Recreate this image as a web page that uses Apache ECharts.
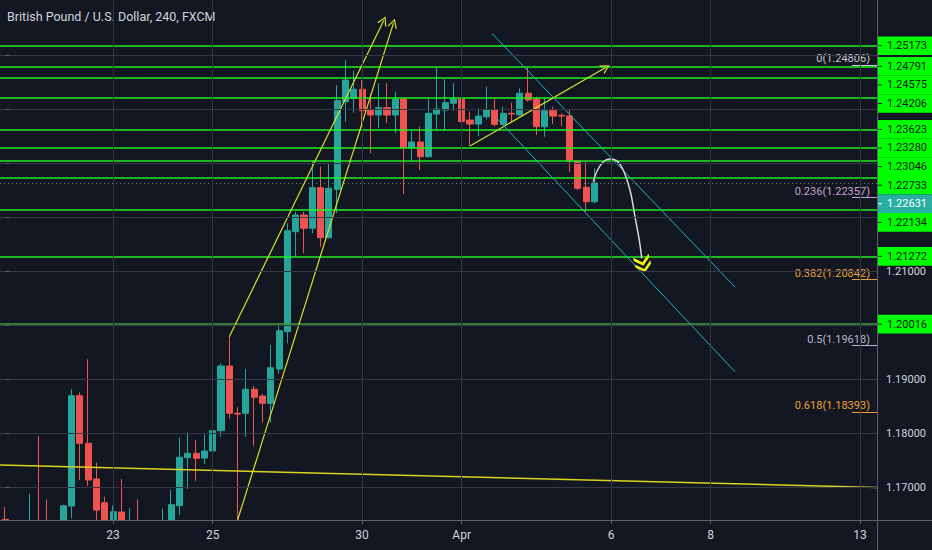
<!DOCTYPE html>
<html>
<head>
<meta charset="utf-8">
<script src="https://cdn.jsdelivr.net/npm/echarts@6/dist/echarts.min.js"></script>
<style>
html,body{margin:0;padding:0;background:#131722;}
#c{width:932px;height:550px;}
</style>
</head>
<body>
<div id="c"></div>
<script>
// ---- candle data (4h bars, index = bar number) ----
const openP = [1.1640,1.1625,1.1615,1.1628,1.1636,1.1620,1.1612,1.1620,1.16648,1.18691,
1.17809,1.17148,1.16709,1.1632,1.16537,1.1630,1.1636,1.1628,1.1620,1.1626,
1.1634,1.16654,1.17543,1.17624,1.17537,1.17667,1.18043,1.19241,1.18365,1.18365,
1.18809,1.18685,1.18550,1.19185,1.19876,1.21728,1.22037,1.21791,1.22543,1.21617,
1.22513,1.24135,1.24198,1.24365,1.23981,1.23889,1.24024,1.23889,1.24185,1.23283,
1.23389,1.23117,1.23907,1.23981,1.24106,1.24185,1.23796,1.23722,1.23857,1.23981,
1.23716,1.23920,1.23889,1.24291,1.24185,1.23672,1.23969,1.23883,1.23870,1.23037,
1.22550,1.22283];
const closeP = [1.1625,1.1615,1.1628,1.1636,1.1620,1.1612,1.1620,1.16654,1.18691,1.17809,
1.17130,1.16574,1.1632,1.16543,1.1630,1.1636,1.1628,1.1620,1.1626,1.1634,
1.16672,1.17550,1.17624,1.17531,1.17667,1.18043,1.19241,1.18365,1.18350,1.18809,
1.18661,1.18550,1.19209,1.19894,1.21746,1.22037,1.21791,1.22543,1.21617,1.22531,
1.24154,1.24537,1.24365,1.23969,1.23889,1.24024,1.23889,1.24185,1.23283,1.23389,
1.23117,1.23920,1.24000,1.24117,1.24185,1.23765,1.23722,1.23870,1.23981,1.23716,
1.23920,1.23907,1.24291,1.24167,1.23672,1.23969,1.23870,1.23870,1.23037,1.22531,
1.22283,1.22631];
const lowP = [1.1610,1.1600,1.1605,1.1615,1.1610,1.1600,1.1598,1.1615,1.16420,1.17130,
1.17019,1.1630,1.1620,1.1620,1.1618,1.1620,1.1615,1.1605,1.1600,1.1612,
1.1625,1.16481,1.16963,1.17111,1.17426,1.17650,1.17932,1.18272,1.1620,1.17932,
1.17765,1.18194,1.18194,1.1910,1.19661,1.21265,1.21328,1.21698,1.21450,1.2160,
1.22069,1.23765,1.23931,1.23672,1.23180,1.23643,1.23735,1.23550,1.22426,1.23024,
1.22870,1.23100,1.23624,1.23611,1.23969,1.23672,1.23315,1.23500,1.23809,1.23672,
1.23704,1.23765,1.23880,1.24135,1.23519,1.23487,1.23722,1.23685,1.22839,1.22500,
1.22098,1.22253];
const highP = [1.1663,1.1632,1.1635,1.1687,1.1794,1.1677,1.1634,1.16672,1.18809,1.18753,
1.19365,1.17450,1.16820,1.16654,1.17148,1.16606,1.16772,1.1636,1.1635,1.16600,
1.16944,1.17913,1.18013,1.17870,1.17976,1.18180,1.19291,1.19783,1.18476,1.19185,
1.18870,1.18722,1.19630,1.20031,1.21883,1.22098,1.22098,1.23056,1.22931,1.22994,
1.24444,1.24907,1.24704,1.24537,1.24291,1.24476,1.24476,1.24320,1.24190,1.23593,
1.23672,1.24185,1.24765,1.24550,1.24476,1.24190,1.23950,1.24013,1.24413,1.24198,
1.24043,1.24117,1.24383,1.24772,1.24228,1.24213,1.24043,1.23920,1.23981,1.23050,
1.23024,1.22902];

// ---- time axis: bar index of each labelled day ----
const dayTickBars = [13, 25, 43, 55, 73, 85, 103];
const dayTickLabels = ['23', '25', '30', 'Apr', '6', '8', '13'];

// ---- price axis ----
const priceGridTicks = [1.17, 1.18, 1.19, 1.20, 1.21, 1.22, 1.23, 1.24, 1.25];
const priceLabelTicks = [1.17, 1.18, 1.19, 1.21];

// ---- horizontal levels ----
const levelPrices = [1.25173, 1.24791, 1.24575, 1.24206, 1.23623, 1.23280, 1.23046, 1.22733, 1.22134, 1.21272, 1.20016];
const lastPrice = 1.22631;

// ---- fibonacci retracement ----
const fibRatios = ['0', '0.236', '0.382', '0.5', '0.618'];
const fibPrices = [1.24806, 1.22357, 1.20842, 1.19618, 1.18393];

// ---- drawings (bar index, price) ----
const flatLine = [[-0.627, 1.17407], [105.04, 1.16991]];
const channelLeft = [[27.0, 1.19783], [45.61, 1.25639]];
const channelRight = [[28.0, 1.16389], [46.78, 1.25591]];
const upArrow = [[56.0, 1.23315], [72.35, 1.24769]];
const tealUpper = [[58.65, 1.25400], [87.93, 1.20704]];
const tealLower = [[59.22, 1.23828], [87.93, 1.19135]];
const curveX = [70.86, 71.27, 72.06, 72.87, 73.67, 74.47, 75.28, 75.88, 76.40, 76.69];
const curveY = [1.22654, 1.22839, 1.23024, 1.23074, 1.23043, 1.22870, 1.22500, 1.22006, 1.21574, 1.21235];
const targetMark = [76.84, 1.21130];

// ---- build ----
const FONT = 'Roboto, "Liberation Sans", sans-serif';
const TXT = '#d1d4dc';
const GRID = '#343844';
const X_MIN = -0.627, X_MAX = 105.04;
const Y_MIN = 1.16389, Y_MAX = 1.26019;

const candles = openP.map((o, i) => [i, o, closeP[i], lowP[i], highP[i]]);
const CHEVRON = 'path://M5,0 L10,10 L8.6,10 L5,2.6 L1.4,10 L0,10 Z';
const DOUBLE_CHEV = 'path://M0,0 L8,7 L16,0 L16,3.5 L8,10.5 L0,3.5 Z M0,7 L8,14 L16,7 L16,10.5 L8,17.5 L0,10.5 Z';

function seg(pts, color, width, arrow) {
  return [
    { coord: pts[0], symbol: 'none' },
    { coord: pts[1], symbol: arrow ? CHEVRON : 'none', symbolSize: arrow ? [10, 9] : 0,
      lineStyle: { color: color, width: width, type: 'solid' } }
  ];
}

const fibColors = ['#c8cbd4', '#c6a0cc', '#e6a23c', '#b9b6cc', '#eea033'];

const chart = echarts.init(document.getElementById('c'), null, { renderer: 'svg' });

const option = {
  backgroundColor: '#131722',
  animation: false,
  title: {
    text: 'British Pound / U.S. Dollar, 240, FXCM',
    left: 7, top: 10, padding: 0,
    textStyle: { color: TXT, fontSize: 12.5, fontWeight: 'normal', fontFamily: FONT }
  },
  grid: { left: 0, right: 55, top: 0, bottom: 30, containLabel: false },
  xAxis: {
    type: 'value', min: X_MIN, max: X_MAX, z: 30,
    axisLine: { show: false },
    axisTick: { show: true, customValues: dayTickBars, length: 4, lineStyle: { color: '#5d606b' } },
    axisLabel: {
      customValues: dayTickBars, color: TXT, fontSize: 12, fontFamily: FONT, margin: 9,
      formatter: v => dayTickLabels[dayTickBars.indexOf(Math.round(v))]
    },
    splitLine: { show: true, lineStyle: { color: GRID, width: 1 } }
  },
  yAxis: {
    type: 'value', position: 'right', min: Y_MIN, max: Y_MAX, z: 30,
    axisLine: { show: false },
    axisTick: { show: true, customValues: priceGridTicks, length: 4, lineStyle: { color: '#5d606b' } },
    axisLabel: {
      customValues: priceLabelTicks, color: TXT, fontSize: 11, fontFamily: FONT, margin: 9,
      formatter: v => v.toFixed(5)
    },
    splitLine: { show: true, lineStyle: { color: GRID, width: 1 } }
  },
  series: [
    {
      type: 'candlestick', name: 'GBPUSD',
      data: candles,
      encode: { x: 0, y: [1, 2, 3, 4] },
      barWidth: 6.6, clip: true,
      itemStyle: { color: '#26a69a', color0: '#ef5350', borderColor: '#26a69a', borderColor0: '#ef5350', borderWidth: 1 },
      z: 3
    },
    {
      type: 'line', name: 'levels', data: [], z: 4, silent: true,
      markLine: {
        silent: true, symbol: ['none', 'none'], animation: false, precision: 5,
        label: { show: false },
        data: levelPrices.map(p => ({
          yAxis: p,
          lineStyle: { color: p === 1.20016 ? '#3c9a3c' : '#22ee22', width: 1.5, type: 'solid' }
        })).concat([{ yAxis: lastPrice, lineStyle: { color: '#6f8796', width: 1, type: [1, 3] } }])
      }
    },
    {
      type: 'line', name: 'fib', data: [], z: 4, silent: true,
      markLine: {
        silent: true, symbol: ['none', 'none'], animation: false, precision: 5,
        data: fibPrices.map((p, i) => [
          { coord: [102.02, p], symbol: 'none' },
          { coord: [X_MAX, p], symbol: 'none',
            lineStyle: { color: fibColors[i], width: 1, type: 'solid' },
            label: { show: true, position: 'insideEndTop', distance: [7, 1],
              formatter: fibRatios[i] + '(' + p.toFixed(5) + ')',
              color: fibColors[i], fontSize: 11, fontFamily: FONT } }
        ])
      }
    },
    {
      type: 'line', name: 'drawings', data: [], z: 5, silent: true,
      markLine: {
        silent: true, symbol: ['none', 'none'], animation: false, precision: 5,
        label: { show: false },
        data: [
          seg(flatLine, '#d8d420', 1.5, false),
          seg(channelLeft, '#d8e030', 1.2, true),
          seg(channelRight, '#d8e030', 1.2, true),
          seg(upArrow, '#d8e030', 1.2, true),
          seg(tealUpper, '#1fb4c4', 1, false),
          seg(tealLower, '#1fb4c4', 1, false)
        ]
      }
    },
    {
      type: 'line', name: 'path', z: 6, silent: true,
      data: curveX.map((x, i) => [x, curveY[i]]),
      smooth: 0.4, showSymbol: false, symbol: 'none',
      lineStyle: { color: '#d6d6d6', width: 1.5 },
      markPoint: {
        silent: true, animation: false,
        data: [{ coord: targetMark, symbol: DOUBLE_CHEV, symbolSize: [16, 17], symbolRotate: 15,
          itemStyle: { color: '#f3f30c' }, label: { show: false } }]
      }
    }
  ]
};
chart.setOption(option);

// price-scale label boxes, stacked so they do not overlap; mask below the pane
const boxes = levelPrices.map(p => ({ p: p, bg: '#00ff00', fg: '#0c1a0c' }))
  .concat([{ p: lastPrice, bg: '#2ab0a2', fg: '#ffffff' }])
  .sort((a, b) => b.p - a.p);
const H = 18.6;
let prev = -1e9;
const gfx = [
  { type: 'rect', shape: { x: 0, y: 520, width: 932, height: 30 }, style: { fill: '#131722' }, z: 19 },
  { type: 'line', shape: { x1: 0, y1: 520.5, x2: 932, y2: 520.5 }, style: { stroke: '#5d606b', lineWidth: 1 }, z: 20 },
  { type: 'line', shape: { x1: 877.5, y1: 0, x2: 877.5, y2: 550 }, style: { stroke: '#5d606b', lineWidth: 1 }, z: 20 }
];
boxes.forEach(b => {
  let y = chart.convertToPixel({ yAxisIndex: 0 }, b.p);
  y = Math.max(y, prev + H);
  prev = y;
  gfx.push({ type: 'rect', shape: { x: 878, y: y - H / 2, width: 54, height: H }, style: { fill: b.bg }, z: 21 });
  gfx.push({ type: 'line', shape: { x1: 878, y1: y, x2: 882, y2: y }, style: { stroke: b.fg, lineWidth: 1 }, z: 22 });
  gfx.push({ type: 'text', x: 887, y: y, style: { text: b.p.toFixed(5), fill: b.fg, font: '11px ' + FONT, verticalAlign: 'middle', align: 'left' }, z: 22 });
});
chart.setOption({ graphic: gfx });
</script>
</body>
</html>
